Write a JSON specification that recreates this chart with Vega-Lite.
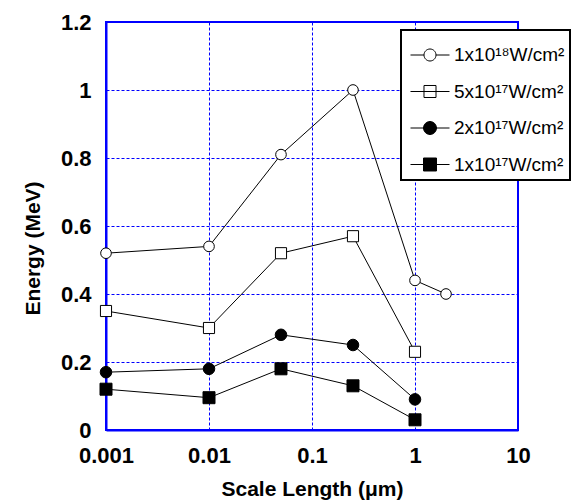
{
  "$schema": "https://vega.github.io/schema/vega-lite/v6.json",
  "autosize": {"type": "none"},
  "padding": {"left": 106, "top": 22, "right": 58, "bottom": 74},
  "width": 412,
  "height": 408,
  "config": {
    "font": "Liberation Sans",
    "view": {"stroke": "#0000ff", "strokeWidth": 2},
    "legend": {"strokeColor": "black", "fillColor": "white", "strokeWidth": 2},
    "axis": {
      "grid": true,
      "gridColor": "#0000ff",
      "gridDash": [3, 2],
      "gridWidth": 1,
      "gridOpacity": 1,
      "domainColor": "#0000ff",
      "domainWidth": 2,
      "ticks": false,
      "labelFont": "Liberation Sans",
      "labelFontWeight": "bold",
      "labelFontSize": 22,
      "labelColor": "black",
      "titleFont": "Liberation Sans",
      "titleFontWeight": "bold",
      "titleFontSize": 21,
      "titleColor": "black"
    }
  },
  "data": {
    "values": [
      {"series": "1x10¹⁸W/cm²", "scale": 0.001, "energy": 0.52},
      {"series": "1x10¹⁸W/cm²", "scale": 0.01, "energy": 0.54},
      {"series": "1x10¹⁸W/cm²", "scale": 0.05, "energy": 0.81},
      {"series": "1x10¹⁸W/cm²", "scale": 0.25, "energy": 1.0},
      {"series": "1x10¹⁸W/cm²", "scale": 1, "energy": 0.44},
      {"series": "1x10¹⁸W/cm²", "scale": 2, "energy": 0.4},
      {"series": "5x10¹⁷W/cm²", "scale": 0.001, "energy": 0.35},
      {"series": "5x10¹⁷W/cm²", "scale": 0.01, "energy": 0.3},
      {"series": "5x10¹⁷W/cm²", "scale": 0.05, "energy": 0.52},
      {"series": "5x10¹⁷W/cm²", "scale": 0.25, "energy": 0.57},
      {"series": "5x10¹⁷W/cm²", "scale": 1, "energy": 0.23},
      {"series": "2x10¹⁷W/cm²", "scale": 0.001, "energy": 0.17},
      {"series": "2x10¹⁷W/cm²", "scale": 0.01, "energy": 0.18},
      {"series": "2x10¹⁷W/cm²", "scale": 0.05, "energy": 0.28},
      {"series": "2x10¹⁷W/cm²", "scale": 0.25, "energy": 0.25},
      {"series": "2x10¹⁷W/cm²", "scale": 1, "energy": 0.09},
      {"series": "1x10¹⁷W/cm²", "scale": 0.001, "energy": 0.12},
      {"series": "1x10¹⁷W/cm²", "scale": 0.01, "energy": 0.095},
      {"series": "1x10¹⁷W/cm²", "scale": 0.05, "energy": 0.18},
      {"series": "1x10¹⁷W/cm²", "scale": 0.25, "energy": 0.13},
      {"series": "1x10¹⁷W/cm²", "scale": 1, "energy": 0.03}
    ]
  },
  "encoding": {
    "x": {
      "field": "scale",
      "type": "quantitative",
      "scale": {"type": "log", "domain": [0.001, 10]},
      "axis": {
        "values": [0.001, 0.01, 0.1, 1, 10],
        "format": "~g",
        "labelFlush": false,
        "labelPadding": 15,
        "title": "Scale Length (μm)",
        "titlePadding": 12
      }
    },
    "y": {
      "field": "energy",
      "type": "quantitative",
      "scale": {"domain": [0, 1.2]},
      "axis": {
        "values": [0, 0.2, 0.4, 0.6, 0.8, 1, 1.2],
        "format": "~g",
        "labelPadding": 15,
        "title": "Energy (MeV)",
        "titlePadding": 17,
        "titleY": 226
      }
    }
  },
  "layer": [
    {
      "mark": {"type": "line", "color": "black", "strokeWidth": 1},
      "encoding": {"detail": {"field": "series"}}
    },
    {
      "mark": {"type": "point", "filled": false, "stroke": "black", "strokeWidth": 1, "opacity": 1},
      "encoding": {
        "shape": {
          "field": "series",
          "scale": {
            "domain": ["1x10¹⁸W/cm²", "5x10¹⁷W/cm²", "2x10¹⁷W/cm²", "1x10¹⁷W/cm²"],
            "range": ["circle", "square", "circle", "square"]
          },
          "legend": null
        },
        "fill": {
          "field": "series",
          "scale": {
            "domain": ["1x10¹⁸W/cm²", "5x10¹⁷W/cm²", "2x10¹⁷W/cm²", "1x10¹⁷W/cm²"],
            "range": ["white", "white", "black", "black"]
          },
          "legend": null
        },
        "size": {
          "field": "series",
          "scale": {
            "domain": ["1x10¹⁸W/cm²", "5x10¹⁷W/cm²", "2x10¹⁷W/cm²", "1x10¹⁷W/cm²"],
            "range": [113, 144, 133, 180]
          },
          "legend": null
        }
      }
    },
    {
      "mark": {"type": "point", "filled": false, "strokeWidth": 1, "size": 0, "opacity": 1, "fillOpacity": 1},
      "encoding": {
        "shape": {
          "field": "series",
          "scale": {
            "domain": ["1x10¹⁸W/cm²", "5x10¹⁷W/cm²", "2x10¹⁷W/cm²", "1x10¹⁷W/cm²"],
            "range": [
              "M-1,0H-0.308M0.308,0H1M-0.308,0A0.308,0.308,0,1,1,0.308,0A0.308,0.308,0,1,1,-0.308,0Z",
              "M-1,0H1M-0.308,-0.308H0.308V0.308H-0.308Z",
              "M-1,0H1M-0.333,0A0.333,0.333,0,1,1,0.333,0A0.333,0.333,0,1,1,-0.333,0Z",
              "M-1,0H1M-0.333,-0.333H0.333V0.333H-0.333Z"
            ]
          },
          "legend": {
            "title": null,
            "orient": "none",
            "legendX": 295,
            "legendY": 8,
            "padding": 5,
            "symbolOffset": 4,
            "rowPadding": 6.5,
            "symbolSize": 1521,
            "symbolStrokeWidth": 1,
            "labelFont": "Liberation Sans",
            "labelFontSize": 19,
            "labelColor": "black",
            "labelOffset": 4,
            "labelLimit": 300
          }
        },
        "fill": {
          "field": "series",
          "scale": {
            "domain": ["1x10¹⁸W/cm²", "5x10¹⁷W/cm²", "2x10¹⁷W/cm²", "1x10¹⁷W/cm²"],
            "range": ["white", "white", "black", "black"]
          },
          "legend": {
            "title": null,
            "orient": "none",
            "legendX": 295,
            "legendY": 8,
            "padding": 5,
            "symbolOffset": 4,
            "rowPadding": 6.5,
            "symbolSize": 1521,
            "symbolStrokeWidth": 1,
            "labelFont": "Liberation Sans",
            "labelFontSize": 19,
            "labelColor": "black",
            "labelOffset": 4,
            "labelLimit": 300
          }
        },
        "stroke": {
          "field": "series",
          "scale": {
            "domain": ["1x10¹⁸W/cm²", "5x10¹⁷W/cm²", "2x10¹⁷W/cm²", "1x10¹⁷W/cm²"],
            "range": ["black", "black", "black", "black"]
          },
          "legend": {
            "title": null,
            "orient": "none",
            "legendX": 295,
            "legendY": 8,
            "padding": 5,
            "symbolOffset": 4,
            "rowPadding": 6.5,
            "symbolSize": 1521,
            "symbolStrokeWidth": 1,
            "labelFont": "Liberation Sans",
            "labelFontSize": 19,
            "labelColor": "black",
            "labelOffset": 4,
            "labelLimit": 300
          }
        }
      }
    }
  ],
  "resolve": {"scale": {"shape": "independent", "fill": "independent", "size": "independent", "stroke": "independent"}}
}
